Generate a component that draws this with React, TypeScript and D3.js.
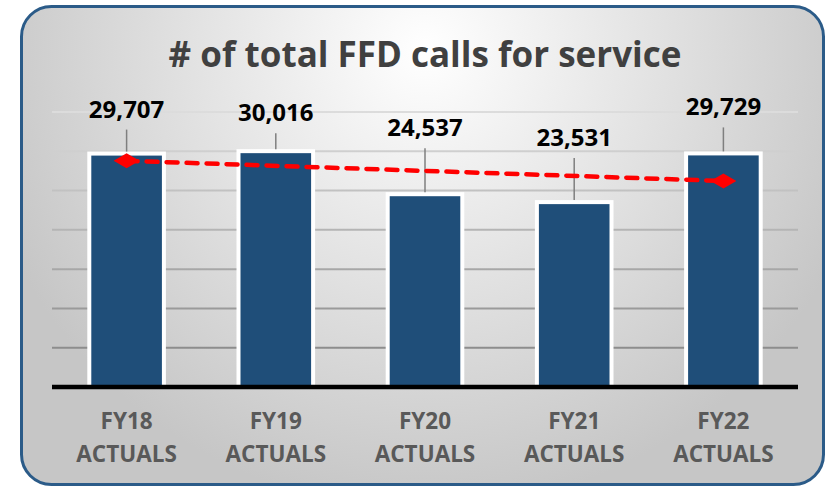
import React from "react";
import * as d3 from "d3";

// chart data
const categories = ["FY18", "FY19", "FY20", "FY21", "FY22"];
const callCounts = [29707, 30016, 24537, 23531, 29729];
// dashed trend line, end values
const trendValues = [28790, 26220];
const yTicks = [5000, 10000, 15000, 20000, 25000, 30000, 35000];

// how far each value label sits above its bar (Excel labels were dragged by hand)
const labelLift = [36, 30, 58, 56, 38];

const W = 825;
const H = 489;
const plot = { left: 52, right: 798, top: 112, bottom: 387 };
const font = "'Open Sans', 'Liberation Sans', sans-serif";

export default function App() {
  const x = d3
    .scaleBand<string>()
    .domain(categories)
    .range([plot.left, plot.right])
    .paddingInner(0.5)
    .paddingOuter(0.25);
  const y = d3.scaleLinear().domain([0, 35000]).range([plot.bottom, plot.top]);
  const cx = (c: string) => (x(c) ?? 0) + x.bandwidth() / 2;

  const trendPts: [number, number][] = [
    [cx(categories[0]), y(trendValues[0])],
    [cx(categories[categories.length - 1]), y(trendValues[1])],
  ];
  const line = d3.line();
  const diamond = (px: number, py: number) =>
    `M${px - 13},${py} L${px},${py - 7.5} L${px + 13},${py} L${px},${py + 7.5} Z`;

  return (
    <div style={{ position: "absolute", left: 0, top: 0 }}>
      <svg width={W} height={H} style={{ display: "block", background: "#fff" }}>
        <defs>
          <radialGradient id="bg" gradientUnits="userSpaceOnUse" cx={425} cy={50} r={460}>
            <stop offset="0" stopColor="#ffffff" />
            <stop offset="0.35" stopColor="#ebebeb" />
            <stop offset="1" stopColor="#c6c6c6" />
          </radialGradient>
          <linearGradient id="grid" gradientUnits="userSpaceOnUse" x1={0} y1={plot.top} x2={0} y2={350}>
            <stop offset="0" stopColor="#dcdcdc" />
            <stop offset="1" stopColor="#8c8c8c" />
          </linearGradient>
        </defs>

        <rect x={21.5} y={6.5} width={802} height={478} rx={30} ry={30} fill="url(#bg)" stroke="#2b5b88" strokeWidth={3} />

        <text x={425} y={67} textAnchor="middle" fontFamily={font} fontWeight={700} fontSize={35} fill="#404040">
          # of total FFD calls for service
        </text>

        {/* gridlines */}
        {yTicks.map((t) => (
          <line key={t} x1={plot.left} x2={plot.right} y1={y(t)} y2={y(t)} stroke="url(#grid)" strokeWidth={2} />
        ))}

        {/* bars */}
        {categories.map((c, i) => (
          <rect
            key={c}
            x={x(c)}
            y={y(callCounts[i])}
            width={x.bandwidth()}
            height={y(0) - y(callCounts[i])}
            fill="#1f4e79"
            stroke="#ffffff"
            strokeWidth={4}
          />
        ))}

        {/* axis baseline */}
        <line x1={plot.left} x2={plot.right} y1={plot.bottom} y2={plot.bottom} stroke="#000" strokeWidth={4.5} />

        {/* value labels with leader lines */}
        {categories.map((c, i) => {
          const top = y(callCounts[i]);
          const base = top - labelLift[i];
          return (
            <g key={c}>
              <line x1={cx(c)} x2={cx(c)} y1={base + 12} y2={top - 2} stroke="#7f7f7f" strokeWidth={1.5} />
              <text x={cx(c)} y={base} textAnchor="middle" fontFamily={font} fontWeight={700} fontSize={24} fill="#000">
                {d3.format(",")(callCounts[i])}
              </text>
            </g>
          );
        })}

        {/* trend */}
        <path d={line(trendPts) ?? ""} fill="none" stroke="#ff0000" strokeWidth={4.5} strokeDasharray="11 9" strokeLinecap="round" />
        {trendPts.map(([px, py], i) => (
          <path key={i} d={diamond(px, py)} fill="#ff0000" />
        ))}

        {/* category labels */}
        {categories.map((c) => (
          <text key={c} x={cx(c)} textAnchor="middle" fontFamily={font} fontWeight={700} fontSize={22.5} fill="#595959">
            <tspan x={cx(c)} y={429}>{c}</tspan>
            <tspan x={cx(c)} y={462}>ACTUALS</tspan>
          </text>
        ))}
      </svg>
    </div>
  );
}
